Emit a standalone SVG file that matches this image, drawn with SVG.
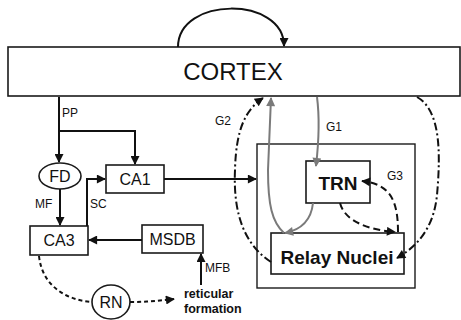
<svg xmlns="http://www.w3.org/2000/svg" width="461" height="320" viewBox="0 0 461 320">
<style>
text{font-family:"Liberation Sans",Arial,sans-serif;fill:#111}
.box{fill:#fff;stroke:#1a1a1a;stroke-width:1.6}
.lbl{font-size:16px}
.sm{font-size:12px}
.b{font-weight:bold}
.c{fill:none;stroke:#111;stroke-width:2}
.g{fill:none;stroke:#7a7a7a;stroke-width:2}
.dd{stroke-dasharray:8,3,2,3}
.ds{stroke-dasharray:7,4}
.dt{stroke-dasharray:4,3}
</style>
<defs>
<marker id="ah" viewBox="0 0 10 10" refX="9" refY="5" markerWidth="11" markerHeight="9" markerUnits="userSpaceOnUse" orient="auto"><path d="M0,0 L10,5 L0,10 z" fill="#111"/></marker>
<marker id="ag" viewBox="0 0 10 10" refX="9" refY="5" markerWidth="11" markerHeight="9" markerUnits="userSpaceOnUse" orient="auto"><path d="M0,0 L10,5 L0,10 z" fill="#7a7a7a"/></marker>
</defs>
<rect width="461" height="320" fill="#fff"/>

<g id="thalamus"><rect x="257" y="144" width="158" height="144" fill="#fff" stroke="#1a1a1a" stroke-width="1.4"/></g>
<g id="cortex"><rect class="box" x="8" y="47" width="452" height="49" stroke-width="2"/><text x="233" y="80" font-size="24" text-anchor="middle">CORTEX</text></g>
<g id="fd"><ellipse class="box" cx="60" cy="176" rx="21" ry="13"/><text class="lbl" x="60" y="182" text-anchor="middle">FD</text></g>
<g id="ca1"><rect class="box" x="106" y="165" width="58" height="28"/><text class="lbl" x="135" y="185" text-anchor="middle">CA1</text></g>
<g id="ca3"><rect class="box" x="30" y="226" width="58" height="29"/><text class="lbl" x="59" y="246" text-anchor="middle">CA3</text></g>
<g id="msdb"><rect class="box" x="142" y="225" width="61" height="28"/><text class="lbl" x="172.5" y="245" text-anchor="middle">MSDB</text></g>
<g id="rn"><ellipse class="box" cx="111" cy="302" rx="19" ry="17"/><text class="lbl" x="111" y="308" text-anchor="middle">RN</text></g>
<g id="reticular"><text x="184" y="298" font-size="12.5" class="b">reticular</text><text x="184" y="313" font-size="12.5" class="b">formation</text></g>
<g id="trn"><rect class="box" x="306" y="161" width="64" height="42"/><text x="338" y="190" font-size="19" class="b" text-anchor="middle">TRN</text></g>
<g id="relay"><rect class="box" x="271" y="233" width="133" height="41"/><text x="337" y="264" font-size="19" class="b" text-anchor="middle">Relay Nuclei</text></g>

<g id="connectors">
<path class="c" d="M178,47 C178,-4 284,-4 284,46" marker-end="url(#ah)"/>
<path class="c" d="M59,97 V162" marker-end="url(#ah)"/>
<path class="c" d="M59,131 H135 V164" marker-end="url(#ah)"/>
<path class="c" d="M60,189 V225" marker-end="url(#ah)"/>
<path class="c" d="M87,226 V179 H105" marker-end="url(#ah)"/>
<path class="c" d="M142,240 H89" marker-end="url(#ah)"/>
<path class="c" d="M201,285 V254" marker-end="url(#ah)"/>
<path class="c" d="M164,179 H256" marker-end="url(#ah)"/>
<path class="c dt" d="M39,256 C42,285 65,300 92,302"/>
<path class="c dt" d="M130,302 C145,302 158,301 174,299" marker-end="url(#ah)"/>
<path class="c dd" d="M271,262 C245,245 233,215 235,170 C236,130 245,110 263,98" marker-end="url(#ah)"/>
<path class="c dd" d="M417,97 C440,110 441,150 437,195 C434,225 420,245 397,258" marker-end="url(#ah)"/>
<path class="c ds" d="M340,203 C345,222 370,230 395,232" marker-end="url(#ah)"/>
<path class="c ds" d="M398,232 C398,200 390,184 362,181" marker-end="url(#ah)"/>
<path class="g" d="M317,97 C320,120 319,140 316,166" marker-end="url(#ag)"/>
<path class="g" d="M284,233 C272,222 268,205 268,170 L271,98" marker-end="url(#ag)"/>
<path class="g" d="M313,203 C311,222 300,230 285,233" marker-end="url(#ag)"/>
<text class="sm" x="62" y="117">PP</text>
<text class="sm" x="35" y="208">MF</text>
<text class="sm" x="90" y="208">SC</text>
<text class="sm" x="205" y="272">MFB</text>
<text class="sm" x="326" y="131">G1</text>
<text class="sm" x="215" y="125">G2</text>
<text class="sm" x="387" y="180">G3</text>
</g>
</svg>
